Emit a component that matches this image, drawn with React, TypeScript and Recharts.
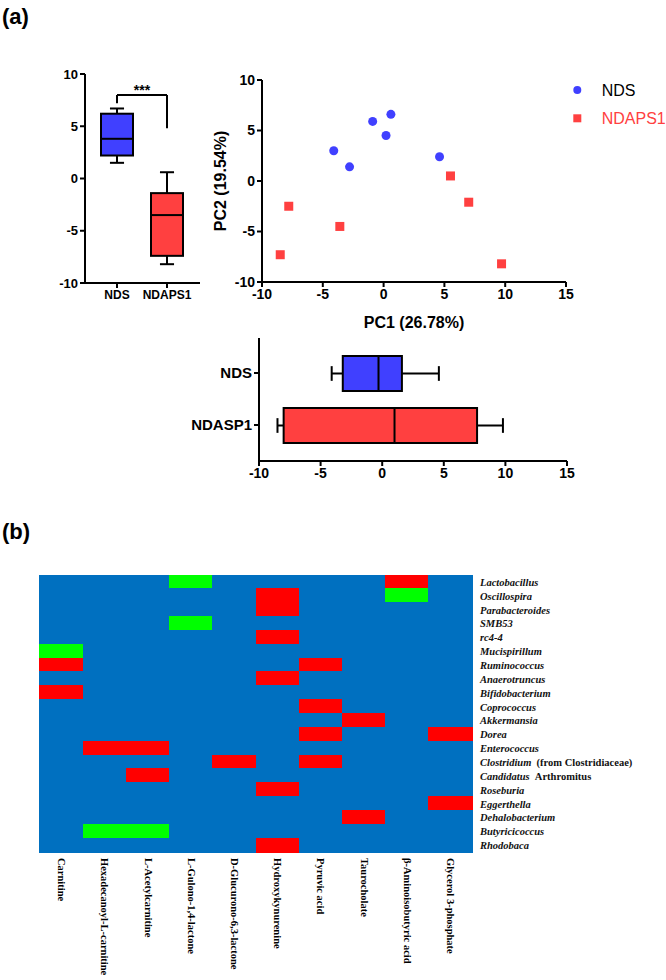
import React from 'react';
import {
  ComposedChart,
  BarChart,
  ScatterChart,
  Bar,
  Scatter,
  Cell,
  XAxis,
  YAxis,
  ReferenceLine,
  Label,
  Legend,
} from 'recharts';

// (a) left: PC1 scores per group, box stats
const scoreGroups = ['NDS', 'NDAPS1'];
const scoreMin = [1.5, -8.2];
const scoreQ1 = [2.2, -7.4];
const scoreMed = [3.8, -3.5];
const scoreQ3 = [6.2, -1.4];
const scoreMax = [6.7, 0.6];

// (a) PCA scatter
const ndsPc1 = [-4.1, -2.8, -0.9, 0.2, 0.6, 4.6];
const ndsPc2 = [3.0, 1.4, 5.9, 4.5, 6.6, 2.4];
const ndapsPc1 = [-7.8, -8.5, -3.6, 5.5, 7.0, 9.7];
const ndapsPc2 = [-2.5, -7.3, -4.5, 0.5, -2.1, -8.2];

// (a) bottom: PC1 box per group
const pc1Groups = ['NDS', 'NDASP1'];
const pc1Min = [-4.1, -8.5];
const pc1Q1 = [-3.2, -8.0];
const pc1Med = [-0.3, 1.0];
const pc1Q3 = [1.6, 7.7];
const pc1Max = [4.6, 9.8];

// (b) heatmap: -1 = green, 0 = blue, 1 = red
const metabolites = [
  'Carnitine',
  'Hexadecanoyl-L-carnitine',
  'L-Acetylcarnitine',
  'L-Gulono-1,4-lactone',
  'D-Glucurono-6,3-lactone',
  'Hydroxykynurenine',
  'Pyruvic acid',
  'Taurocholate',
  'β-Aminoisobutyric acid',
  'Glycerol 3-phosphate',
];
const genera: [string, string][] = [
  ['Lactobacillus', ''],
  ['Oscillospira', ''],
  ['Parabacteroides', ''],
  ['SMB53', ''],
  ['rc4-4', ''],
  ['Mucispirillum', ''],
  ['Ruminococcus', ''],
  ['Anaerotruncus', ''],
  ['Bifidobacterium', ''],
  ['Coprococcus', ''],
  ['Akkermansia', ''],
  ['Dorea', ''],
  ['Enterococcus', ''],
  ['Clostridium', '(from Clostridiaceae)'],
  ['Candidatus', 'Arthromitus'],
  ['Roseburia', ''],
  ['Eggerthella', ''],
  ['Dehalobacterium', ''],
  ['Butyricicoccus', ''],
  ['Rhodobaca', ''],
];
const heatRows = [
  [0, 0, 0, -1, 0, 0, 0, 0, 1, 0],
  [0, 0, 0, 0, 0, 1, 0, 0, -1, 0],
  [0, 0, 0, 0, 0, 1, 0, 0, 0, 0],
  [0, 0, 0, -1, 0, 0, 0, 0, 0, 0],
  [0, 0, 0, 0, 0, 1, 0, 0, 0, 0],
  [-1, 0, 0, 0, 0, 0, 0, 0, 0, 0],
  [1, 0, 0, 0, 0, 0, 1, 0, 0, 0],
  [0, 0, 0, 0, 0, 1, 0, 0, 0, 0],
  [1, 0, 0, 0, 0, 0, 0, 0, 0, 0],
  [0, 0, 0, 0, 0, 0, 1, 0, 0, 0],
  [0, 0, 0, 0, 0, 0, 0, 1, 0, 0],
  [0, 0, 0, 0, 0, 0, 1, 0, 0, 1],
  [0, 1, 1, 0, 0, 0, 0, 0, 0, 0],
  [0, 0, 0, 0, 1, 0, 1, 0, 0, 0],
  [0, 0, 1, 0, 0, 0, 0, 0, 0, 0],
  [0, 0, 0, 0, 0, 1, 0, 0, 0, 0],
  [0, 0, 0, 0, 0, 0, 0, 0, 0, 1],
  [0, 0, 0, 0, 0, 0, 0, 1, 0, 0],
  [0, -1, -1, 0, 0, 0, 0, 0, 0, 0],
  [0, 0, 0, 0, 0, 1, 0, 0, 0, 0],
];

const BLUE = '#4040FF';
const RED = '#FF4040';
const heatColor = (v: number) => (v > 0 ? '#FF0000' : v < 0 ? '#00FF00' : '#0070C0');

const scoreData = scoreGroups.map((g, i) => ({
  group: g, min: scoreMin[i], q1: scoreQ1[i], med: scoreMed[i], q3: scoreQ3[i], max: scoreMax[i],
}));
const pc1Data = pc1Groups.map((g, i) => ({
  group: g, min: pc1Min[i], q1: pc1Q1[i], med: pc1Med[i], q3: pc1Q3[i], max: pc1Max[i],
}));
const ndsPoints = ndsPc1.map((x, i) => ({ x, y: ndsPc2[i] }));
const ndapsPoints = ndapsPc1.map((x, i) => ({ x, y: ndapsPc2[i] }));
const heatData = genera.map((g, i) => {
  const row: any = { genus: g.join(' ').trim() };
  metabolites.forEach((_, j) => (row['c' + j] = 1));
  return row;
});

const tickStyle = { fill: '#000', fontSize: 13, fontWeight: 'bold' as const };
const axisStyle = { stroke: '#000', strokeWidth: 2 };
const serif = '"Liberation Serif", "Times New Roman", serif';

// vertical box: whiskers from the box's own pixel scale
function VBox(props: any) {
  const { x, y, width, height, payload, fill } = props;
  const top = Math.min(y, y + height);
  const h = Math.abs(height);
  const k = h / (payload.q3 - payload.q1);
  const py = (v: number) => top + (payload.q3 - v) * k;
  const cx = x + width / 2;
  const cap = width * 0.22;
  return (
    <g stroke="#000" strokeWidth={2}>
      <line x1={cx} x2={cx} y1={py(payload.max)} y2={top} />
      <line x1={cx} x2={cx} y1={top + h} y2={py(payload.min)} />
      <line x1={cx - cap} x2={cx + cap} y1={py(payload.max)} y2={py(payload.max)} />
      <line x1={cx - cap} x2={cx + cap} y1={py(payload.min)} y2={py(payload.min)} />
      <rect x={x} y={top} width={width} height={h} fill={fill} />
      <line x1={x} x2={x + width} y1={py(payload.med)} y2={py(payload.med)} />
    </g>
  );
}

function HBox(props: any) {
  const { x, y, width, height, payload, fill } = props;
  const left = Math.min(x, x + width);
  const w = Math.abs(width);
  const k = w / (payload.q3 - payload.q1);
  const px = (v: number) => left + (v - payload.q1) * k;
  const cy = y + height / 2;
  const cap = height * 0.21;
  return (
    <g stroke="#000" strokeWidth={2}>
      <line y1={cy} y2={cy} x1={px(payload.min)} x2={left} />
      <line y1={cy} y2={cy} x1={left + w} x2={px(payload.max)} />
      <line y1={cy - cap} y2={cy + cap} x1={px(payload.min)} x2={px(payload.min)} />
      <line y1={cy - cap} y2={cy + cap} x1={px(payload.max)} x2={px(payload.max)} />
      <rect x={left} y={y} width={w} height={height} fill={fill} />
      <line y1={y} y2={y + height} x1={px(payload.med)} x2={px(payload.med)} />
    </g>
  );
}

const circleShape = (p: any) => <circle cx={p.cx} cy={p.cy} r={4.5} fill={BLUE} />;
const squareShape = (p: any) => <rect x={p.cx - 4.5} y={p.cy - 4.5} width={9} height={9} fill={RED} />;

function PcaLegend(props: any) {
  const payload = props.payload || [];
  const order = ['NDS', 'NDAPS1'];
  const items = order.map((name) => payload.find((p: any) => p.value === name) || { value: name });
  return (
    <svg width={96} height={60}>
      {items.map((it: any, i: number) => {
        const cy = 14 + i * 28.3;
        const isNds = it.value === 'NDS';
        return (
          <g key={i}>
            {isNds ? (
              <circle cx={7.3} cy={cy} r={4} fill={BLUE} />
            ) : (
              <rect x={3.3} y={cy - 4} width={8} height={8} fill={RED} />
            )}
            <text x={31.7} y={cy} dominantBaseline="central" fontSize={16} fill={isNds ? '#000' : RED}>
              {it.value}
            </text>
          </g>
        );
      })}
    </svg>
  );
}

function MetaboliteTick(props: any) {
  const { x, y, payload } = props;
  const name = metabolites[Math.floor(payload.value)];
  return (
    <text
      x={x}
      y={y}
      transform={`rotate(90 ${x} ${y})`}
      dominantBaseline="central"
      textAnchor="start"
      fontFamily={serif}
      fontWeight="bold"
      fontSize={10.5}
      fill="#000"
    >
      {name}
    </text>
  );
}

function GenusTick(props: any) {
  const { x, y, index } = props;
  const [it, plain] = genera[index];
  return (
    <text
      x={x}
      y={y}
      dominantBaseline="central"
      textAnchor="start"
      fontFamily={serif}
      fontWeight="bold"
      fontSize={10.5}
      fill="#111"
    >
      <tspan fontStyle="italic">{it}</tspan>
      {plain ? <tspan>{'\u00a0\u00a0' + plain}</tspan> : null}
    </text>
  );
}

export default function App() {
  return (
    <div
      style={{
        position: 'absolute',
        left: 0,
        top: 0,
        width: 666,
        height: 980,
        background: '#fff',
        fontFamily: '"Liberation Sans", Arial, sans-serif',
      }}
    >
      <svg width={666} height={980} style={{ position: 'absolute', left: 0, top: 0 }}>
        <text x={2} y={24} fontSize={22} fontWeight="bold" fill="#000">(a)</text>
        <text x={2} y={539} fontSize={22} fontWeight="bold" fill="#000">(b)</text>
      </svg>

      {/* PC1 score per group */}
      <div style={{ position: 'absolute', left: 0, top: 0 }}>
        <ComposedChart width={210} height={310} data={scoreData} margin={{ top: 74, right: 10, bottom: 5, left: 40 }}>
          <XAxis
            dataKey="group"
            axisLine={axisStyle}
            tickLine={axisStyle}
            tickSize={5}
            tick={{ ...tickStyle, fontSize: 12 }}
            height={22}
            padding={{ left: 7, right: 8 }}
          />
          <YAxis
            type="number"
            domain={[-10, 10]}
            ticks={[-10, -5, 0, 5, 10]}
            axisLine={axisStyle}
            tickLine={axisStyle}
            tickSize={5}
            tick={tickStyle}
            width={45}
          />
          <Bar dataKey={(d: any) => [d.q1, d.q3]} barSize={32} shape={VBox} isAnimationActive={false}>
            {scoreData.map((_, i) => (
              <Cell key={i} fill={i === 0 ? BLUE : RED} />
            ))}
          </Bar>
          <ReferenceLine segment={[{ x: 'NDS', y: 8 }, { x: 'NDAPS1', y: 8 }]} stroke="#000" strokeWidth={2}>
            <Label value="***" position="top" offset={0} fontSize={14} fontWeight="bold" fill="#000" />
          </ReferenceLine>
          <ReferenceLine segment={[{ x: 'NDS', y: 8 }, { x: 'NDS', y: 7.2 }]} stroke="#000" strokeWidth={2} />
          <ReferenceLine segment={[{ x: 'NDAPS1', y: 8 }, { x: 'NDAPS1', y: 4.8 }]} stroke="#000" strokeWidth={2} />
        </ComposedChart>
      </div>

      {/* PCA scatter */}
      <div style={{ position: 'absolute', left: 200, top: 60 }}>
        <ScatterChart width={466} height={280} margin={{ top: 20, right: 100, bottom: 0, left: 5 }}>
          <XAxis
            type="number"
            dataKey="x"
            domain={[-10, 15]}
            ticks={[-10, -5, 0, 5, 10, 15]}
            axisLine={axisStyle}
            tickLine={axisStyle}
            tickSize={5}
            tick={{ ...tickStyle, fontSize: 14 }}
            height={58}
          >
            <Label value="PC1 (26.78%)" position="insideBottom" offset={12} fontSize={16} fontWeight="bold" fill="#000" />
          </XAxis>
          <YAxis
            type="number"
            dataKey="y"
            domain={[-10, 10]}
            ticks={[-10, -5, 0, 5, 10]}
            axisLine={axisStyle}
            tickLine={axisStyle}
            tickSize={5}
            tick={{ ...tickStyle, fontSize: 14 }}
            width={57}
          >
            <Label
              value="PC2 (19.54%)"
              angle={-90}
              position="insideLeft"
              offset={15}
              fontSize={16}
              fontWeight="bold"
              fill="#000"
              style={{ textAnchor: 'middle' }}
            />
          </YAxis>
          <Legend
            layout="horizontal"
            verticalAlign="middle"
            align="center"
            wrapperStyle={{ left: 370, top: 16, width: 96 }}
            content={PcaLegend}
          />
          <Scatter name="NDS" data={ndsPoints} fill={BLUE} shape={circleShape} isAnimationActive={false} />
          <Scatter name="NDAPS1" data={ndapsPoints} fill={RED} shape={squareShape} isAnimationActive={false} />
        </ScatterChart>
      </div>

      {/* PC1 horizontal box */}
      <div style={{ position: 'absolute', left: 180, top: 330 }}>
        <BarChart
          width={400}
          height={160}
          layout="vertical"
          data={pc1Data}
          margin={{ top: 8, right: 13, bottom: 4, left: 0 }}
        >
          <XAxis
            type="number"
            domain={[-10, 15]}
            ticks={[-10, -5, 0, 5, 10, 15]}
            axisLine={axisStyle}
            tickLine={axisStyle}
            tickSize={5}
            tick={{ ...tickStyle, fontSize: 14 }}
            height={25}
          />
          <YAxis
            type="category"
            dataKey="group"
            axisLine={axisStyle}
            tickLine={axisStyle}
            tickSize={5}
            tick={{ ...tickStyle, fontSize: 15 }}
            width={79}
            padding={{ top: 9, bottom: 10 }}
          />
          <Bar dataKey={(d: any) => [d.q1, d.q3]} barSize={35} shape={HBox} isAnimationActive={false}>
            {pc1Data.map((_, i) => (
              <Cell key={i} fill={i === 0 ? BLUE : RED} />
            ))}
          </Bar>
        </BarChart>
      </div>

      {/* (b) heatmap */}
      <div style={{ position: 'absolute', left: 0, top: 560 }}>
        <BarChart
          width={666}
          height={420}
          layout="vertical"
          data={heatData}
          barCategoryGap={0}
          barGap={0}
          margin={{ top: 15, right: 4, bottom: 2, left: 40 }}
        >
          <XAxis
            type="number"
            domain={[0, 10]}
            ticks={metabolites.map((_, j) => j + 0.5)}
            axisLine={false}
            tickLine={false}
            tickSize={0}
            tickMargin={6}
            interval={0}
            tick={MetaboliteTick}
            height={126}
          />
          <YAxis
            type="category"
            dataKey="genus"
            orientation="right"
            axisLine={false}
            tickLine={false}
            tickSize={0}
            tickMargin={8}
            interval={0}
            tick={GenusTick}
            width={190}
          />
          {metabolites.map((_, j) => (
            <Bar key={j} dataKey={'c' + j} stackId="heat" isAnimationActive={false}>
              {heatRows.map((row, i) => (
                <Cell
                  key={i}
                  fill={heatColor(row[j])}
                  stroke={heatColor(row[j])}
                  strokeWidth={1}
                  shapeRendering="crispEdges"
                />
              ))}
            </Bar>
          ))}
        </BarChart>
      </div>
    </div>
  );
}
